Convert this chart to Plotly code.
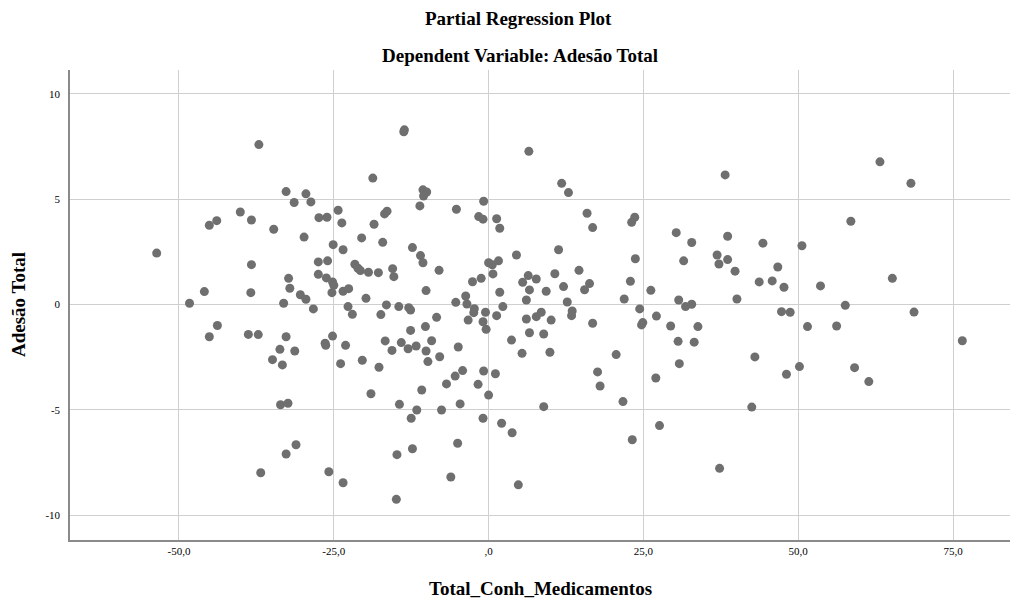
import plotly.graph_objects as go

# Partial regression residuals: Total_Conh_Medicamentos (x) vs Adesão Total (y)
conh_medicamentos = [
    -53.6, -48.3, -45.9, -45.1, -45.1, -43.9, -43.8, -37.1, -32.7, -31.4,
    -40.1, -38.3, -34.7, -38.3, -32.3, -32.1, -30.4, -38.4, -33.1, -38.8,
    -37.2, -32.7, -33.7, -31.3, -34.9, -33.3, -33.6, -32.4, -31.1, -32.7,
    -36.8, -13.7, -13.6, -18.7, -29.5, -28.7, -24.3, -27.4, -26.1, -23.7,
    -16.8, -16.4, -18.5, -11.1, -29.8, -20.5, -17.1, -25.1, -23.5, -12.3,
    -11.0, -10.6, -27.5, -26.0, -21.6, -21.1, -20.7, -19.4, -17.8, -15.5,
    -15.3, -27.5, -26.2, -25.2, -25.0, -25.3, -23.5, -22.6, -29.5, -28.3,
    -19.8, -22.7, -22.0, -16.5, -14.5, -12.9, -12.6, -17.4, -12.6, -26.4,
    -26.3, -25.2, -23.1, -23.9, -20.4, -17.7, -16.7, -15.6, -14.1, -13.0,
    -11.7, -19.0, -14.4, -11.6, -12.5, -10.8, -14.8, -12.3, -25.8, -23.5,
    -14.9, 6.5, -10.6, -10.0, -10.5, -0.8, -5.2, -1.6, -0.9, 1.3,
    1.8, -8.0, 4.5, 0.0, 0.6, 1.6, 0.7, -1.2, -2.6, 6.4,
    5.5, 7.7, 6.6, -10.1, 1.8, 6.1, -5.3, -3.7, -3.5, -2.3,
    -2.4, -0.5, 2.3, 1.3, -8.4, -3.3, -0.9, 6.1, 7.7, -10.2,
    -0.4, -9.2, -10.1, -9.8, -7.9, -4.9, 3.7, 6.6, 5.4, -4.2,
    -5.4, -6.8, -0.8, 1.1, -1.7, 0.0, -4.6, -7.6, -0.9, 2.1,
    3.8, -5.0, -6.1, 4.8, 11.8, 12.9, 15.9, 16.8, 23.1, 23.6,
    30.3, 32.8, 31.5, 11.3, 23.7, 14.6, 10.7, 16.3, 15.5, 12.1,
    9.3, 22.9, 21.9, 26.2, 30.7, 31.8, 32.8, 12.7, 24.4, 24.9,
    24.7, 27.1, 29.4, 8.5, 13.5, 13.4, 10.1, 16.8, 8.9, 33.8,
    9.9, 20.6, 17.6, 18.0, 30.6, 33.2, 30.8, 27.0, 21.7, 8.9,
    27.6, 23.2, 38.2, 63.2, 68.2, 58.5, 38.6, 44.3, 50.6, 36.9,
    37.2, 38.6, 39.8, 46.7, 43.7, 45.8, 47.7, 53.6, 65.2, 40.1,
    47.3, 48.7, 57.6, 68.7, 51.5, 56.2, 76.5, 43.0, 48.1, 50.2,
    59.1, 61.4, 42.5, 37.3,
]
adesao_total = [
    2.44, 0.06, 0.61, -1.53, 3.76, 3.98, -1.00, 7.59, 5.36, 4.84,
    4.39, 4.01, 3.57, 1.89, 1.24, 0.77, 0.46, 0.56, 0.06, -1.42,
    -1.43, -1.53, -2.13, -2.21, -2.62, -2.87, -4.76, -4.69, -6.66, -7.10,
    -7.99, 8.20, 8.29, 6.00, 5.25, 4.87, 4.47, 4.12, 4.14, 3.87,
    4.30, 4.43, 3.81, 4.68, 3.20, 3.16, 2.95, 2.84, 2.60, 2.70,
    2.32, 1.98, 2.02, 2.07, 1.91, 1.72, 1.61, 1.53, 1.51, 1.70,
    1.32, 1.43, 1.26, 1.07, 0.91, 0.56, 0.63, 0.75, 0.25, -0.21,
    0.29, -0.10, -0.47, -0.02, -0.10, -0.15, -0.26, -0.48, -1.23, -1.84,
    -1.94, -1.50, -1.94, -2.81, -2.65, -2.98, -1.73, -2.18, -1.81, -2.10,
    -1.97, -4.24, -4.74, -5.01, -5.40, -4.06, -7.13, -6.85, -7.94, -8.46,
    -9.25, 7.27, 5.44, 5.34, 5.15, 4.90, 4.52, 4.17, 4.05, 4.07,
    3.62, 1.62, 2.35, 1.98, 1.88, 2.07, 1.45, 1.24, 1.08, 1.37,
    1.05, 1.21, 0.69, 0.66, 0.58, 0.21, 0.10, 0.40, 0.02, -0.20,
    -0.39, -0.37, -0.10, -0.53, -0.61, -0.74, -0.82, -0.69, -0.58, -1.05,
    -1.18, -1.72, -2.21, -2.71, -2.48, -2.02, -1.69, -1.34, -2.32, -3.14,
    -3.40, -3.77, -3.16, -3.29, -3.79, -4.30, -4.72, -5.01, -5.40, -5.64,
    -6.09, -6.59, -8.19, -8.56, 5.75, 5.31, 4.33, 3.65, 3.90, 4.14,
    3.41, 2.94, 2.07, 2.60, 2.17, 1.62, 1.46, 0.99, 0.70, 0.85,
    0.63, 1.10, 0.26, 0.67, 0.21, -0.10, 0.01, 0.12, -0.21, -0.86,
    -0.97, -0.55, -1.02, -0.37, -0.31, -0.53, -0.74, -0.89, -1.40, -1.05,
    -2.27, -2.38, -3.20, -3.87, -1.75, -1.79, -2.81, -3.49, -4.61, -4.85,
    -5.75, -6.42, 6.15, 6.77, 5.75, 3.95, 3.24, 2.91, 2.79, 2.35,
    1.92, 2.13, 1.58, 1.78, 1.07, 1.12, 0.82, 0.88, 1.24, 0.26,
    -0.34, -0.37, -0.04, -0.36, -1.05, -1.02, -1.72, -2.49, -3.31, -2.95,
    -3.00, -3.66, -4.87, -7.78,
]

x_tick_values = [-50, -25, 0, 25, 50, 75]
x_tick_labels = ["-50,0", "-25,0", ",0", "25,0", "50,0", "75,0"]
y_tick_values = [-10, -5, 0, 5, 10]
y_tick_labels = ["-10", "-5", "0", "5", "10"]

SERIF = "Liberation Serif, Times New Roman, serif"
GRID = "#cfcfcf"
AXIS = "#8a8a8a"
TITLE_SIZE = 19

fig = go.Figure(
    go.Scatter(
        x=conh_medicamentos,
        y=adesao_total,
        mode="markers",
        marker=dict(size=9, color="#6f6f6f", line=dict(width=0)),
        hoverinfo="x+y",
    )
)

title_font = dict(family=SERIF, size=TITLE_SIZE, color="black")

fig.update_layout(
    width=1029,
    height=605,
    margin=dict(l=70, r=19, t=70, b=65),
    paper_bgcolor="white",
    plot_bgcolor="white",
    showlegend=False,
    font=dict(family=SERIF, color="#000000"),
    annotations=[
        # chart titles are centred on the whole page
        dict(text="<b>Partial Regression Plot</b>", xref="paper", yref="paper",
             x=0.5, y=1, xshift=-22, yshift=52, showarrow=False, yanchor="middle",
             font=title_font),
        dict(text="<b>Dependent Variable: Adesão Total</b>", xref="paper", yref="paper",
             x=0.5, y=1, xshift=-20, yshift=15, showarrow=False, yanchor="middle",
             font=title_font),
        dict(text="<b>Total_Conh_Medicamentos</b>", xref="paper", yref="paper",
             x=0.5, y=0, yshift=-48, showarrow=False, yanchor="middle",
             font=title_font),
        dict(text="<b>Adesão Total</b>", xref="paper", yref="paper",
             x=0, y=0.5, xshift=-52, showarrow=False, xanchor="center",
             yanchor="middle", textangle=-90, font=title_font),
    ],
)

fig.update_xaxes(
    range=[-67.6, 84.2],
    tickvals=x_tick_values,
    ticktext=x_tick_labels,
    showgrid=True,
    gridcolor=GRID,
    gridwidth=1,
    zeroline=False,
    showline=True,
    linecolor=AXIS,
    linewidth=1.5,
    ticks="",
    tickfont=dict(family=SERIF, size=11, color="black"),
)

fig.update_yaxes(
    range=[-11.18, 11.13],
    tickvals=y_tick_values,
    ticktext=y_tick_labels,
    showgrid=True,
    gridcolor=GRID,
    gridwidth=1,
    zeroline=False,
    showline=True,
    linecolor=AXIS,
    linewidth=1.5,
    ticks="",
    ticklabelstandoff=6,
    tickfont=dict(family=SERIF, size=11, color="black"),
)

fig.write_html("out.html")
